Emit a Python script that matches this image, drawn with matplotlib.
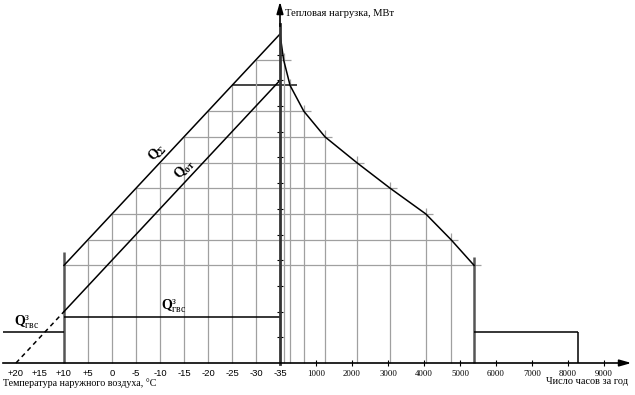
import matplotlib.pyplot as plt

plt.rcParams['mathtext.fontset'] = 'custom'
plt.rcParams['mathtext.rm'] = 'Liberation Serif'
plt.rcParams['mathtext.bf'] = 'Liberation Serif:bold'
plt.rcParams['mathtext.it'] = 'Liberation Serif:italic'

# температура наружного воздуха, число часов стояния и суммарная нагрузка, МВт
temps = [10, 5, 0, -5, -10, -15, -20, -25, -30, -35]
hours = [5390, 4750, 4050, 3060, 2130, 1250, 660, 280, 100, 0]
q_sum = [38, 48, 58, 68, 78, 88, 98, 108, 118, 128]

# отопительная нагрузка
ot_temps = [20, 10, -35]
q_ot = [0, 20, 110]

# горячее водоснабжение (зима / лето)
q_gvs_w = 18
q_gvs_s = 12
summer_end = 8280

temp_ticks = [20, 15, 10, 5, 0, -5, -10, -15, -20, -25, -30, -35]
temp_labels = ['+20', '+15', '+10', '+5', '0', '-5', '-10', '-15', '-20',
               '-25', '-30', '-35']
hour_ticks = [1000, 2000, 3000, 4000, 5000, 6000, 7000, 8000, 9000]
q_ticks = [10, 20, 30, 40, 50, 60, 70, 80, 90, 100, 110, 120]

grid_c = '#a0a0a0'
dark_c = '#555555'

fig = plt.figure(figsize=(6.35, 3.95), dpi=100)
axL = fig.add_axes([0, 0, 280 / 635, 1])
axR = fig.add_axes([280 / 635, 0, 355 / 635, 1], sharey=axL)
axL.set_ylim(-12.45, 141.25)
axL.set_xlim(23.33, -35)
axR.set_xlim(0, 9861)

for ax in (axL, axR):
    for s in ('top', 'right', 'left'):
        ax.spines[s].set_visible(False)
    ax.spines['bottom'].set_position(('data', 0))
    ax.spines['bottom'].set_linewidth(1.2)
    ax.patch.set_visible(False)
axL.spines['bottom'].set_bounds(22.7, -35)
axR.spines['bottom'].set_bounds(0, 9550)
axR.spines['left'].set_visible(True)
axR.spines['left'].set_bounds(-0.5, 132)
axR.spines['left'].set_linewidth(2)
axR.spines['left'].set_color('#333333')

axL.set_xticks(temp_ticks, temp_labels)
axL.tick_params(axis='x', direction='inout', length=0, pad=4.5, labelsize=6.8)
axL.tick_params(axis='y', left=False, labelleft=False)
for lb in axL.get_xticklabels():
    lb.set_fontfamily('Liberation Sans')

axR.set_xticks(hour_ticks, [str(h) for h in hour_ticks])
axR.tick_params(axis='x', direction='inout', length=5, width=0.8, pad=2.5, labelsize=6.3)
axR.set_yticks(q_ticks)
axR.tick_params(axis='y', direction='inout', length=5, width=0.8, labelleft=False)
for lb in axR.get_xticklabels():
    lb.set_fontfamily('Liberation Serif')

# стрелки осей
arrow = dict(arrowstyle='-|>,head_length=0.7,head_width=0.2', color='k', lw=1.2,
             shrinkA=0, shrinkB=0)
axR.annotate('', xy=(9760, 0), xytext=(9500, 0), arrowprops=arrow)
axR.annotate('', xy=(0, 140.6), xytext=(0, 131), arrowprops=arrow)

# сетка в области температур и в области часов
for t, h, q in zip(temps[:-1], hours[:-1], q_sum[:-1]):
    c = '#444444' if t == -25 else grid_c
    lw = 1.4 if t == -25 else 0.9
    axL.hlines(q, t, -35, color=c, lw=lw)
    axR.hlines(q, 0, h + 200, color=c, lw=lw)
for t, h, q in zip(temps[1:-1], hours[1:-1], q_sum[1:-1]):
    axL.vlines(t, 0, q, color=grid_c, lw=0.9)
    axR.vlines(h, 0, q + 2.5, color=grid_c, lw=0.9)
axL.vlines(temps[0], 0, q_sum[0] + 5, color=dark_c, lw=1.8)
axR.vlines(hours[0], 0, q_sum[0] + 3.3, color=dark_c, lw=1.8)

# нагрузки
axL.plot(temps, q_sum, color='k', lw=1.1)
axL.plot(ot_temps[1:], q_ot[1:], color='k', lw=1.1)
axL.plot(ot_temps[:2], q_ot[:2], color='k', lw=1.1, ls=(0, (3, 2.5)))
axR.plot(hours, q_sum, color='k', lw=1.1)
axL.hlines(q_gvs_w, temps[0], -35, color='k', lw=1.1)
axL.hlines(q_gvs_s, 22.7, temps[0], color='k', lw=1.1)
axR.hlines(q_gvs_s, hours[0], summer_end, color='k', lw=1.1)
axR.vlines(summer_end, 0, q_gvs_s, color='k', lw=1.1)

# подписи
axL.text(-9.4, 81.7, r'$\mathbf{Q}_{\mathbf{\Sigma}}$', fontsize=10, rotation=47,
         ha='center', va='center', rotation_mode='anchor')
axL.text(-15.2, 75.5, r'$\mathbf{Q}_{\mathbf{от}}$', fontsize=10, rotation=47,
         ha='center', va='center', rotation_mode='anchor')
axL.text(-12.9, 22.2, r'$\mathbf{Q}^{\mathrm{з}}_{\mathrm{гвс}}$', fontsize=10,
         ha='center', va='center')
axL.text(17.7, 16, r'$\mathbf{Q}^{\mathrm{з}}_{\mathrm{гвс}}$', fontsize=10,
         ha='center', va='center')

axL.text(22.7, -7.8, 'Температура наружного воздуха, °C', fontsize=7.2,
         family='Liberation Serif', ha='left', va='center')
axR.text(9675, -7.1, 'Число часов за год', fontsize=7.4, family='Liberation Serif',
         ha='right', va='center')
axR.text(147, 136, 'Тепловая нагрузка, МВт', fontsize=7.6, family='Liberation Serif',
         ha='left', va='center')

fig.savefig('out.png', dpi=100)
